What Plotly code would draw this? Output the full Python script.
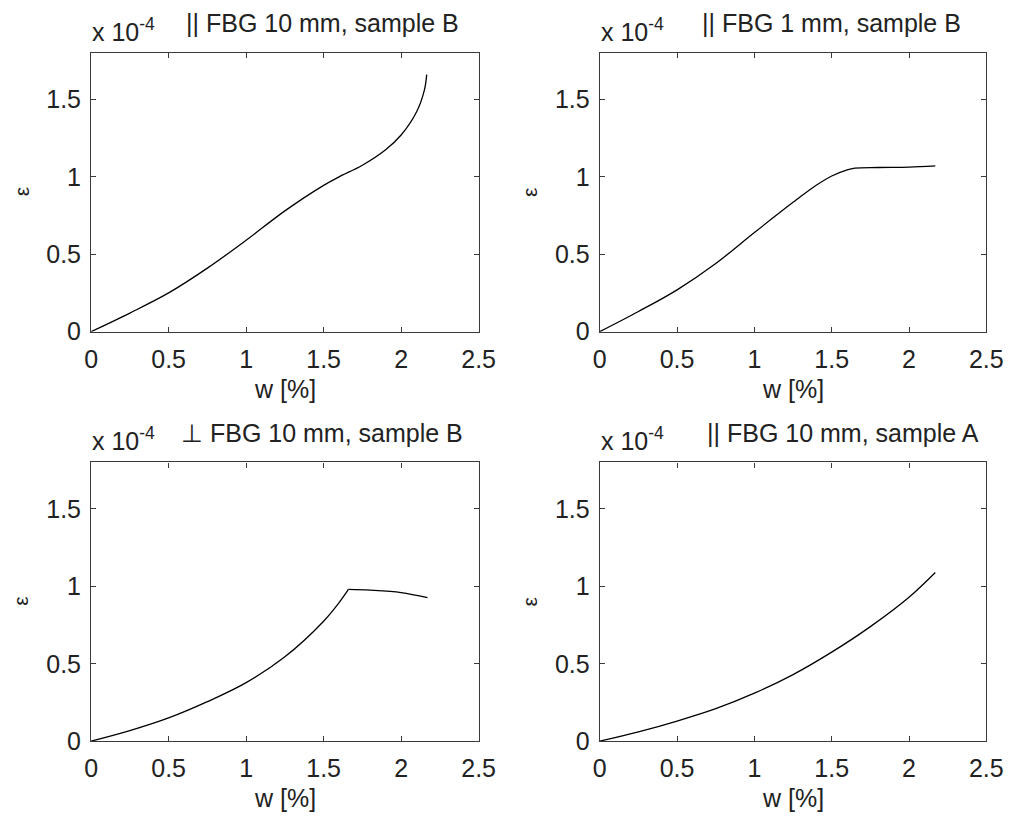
import plotly.graph_objects as go

W, H = 1013, 819

# ---- data (strain in units of 1e-4 vs w [%]) ----
w_tl = [0, 0.25, 0.5, 0.75, 1.0, 1.25, 1.5, 1.6, 1.75, 1.9, 2.0, 2.1, 2.15, 2.165]
e_tl = [0, 0.12, 0.25, 0.41, 0.59, 0.78, 0.945, 1.0, 1.075, 1.175, 1.27, 1.42, 1.56, 1.66]

w_tr = [0, 0.25, 0.5, 0.75, 1.0, 1.25, 1.4, 1.5, 1.6, 1.65, 1.8, 2.0, 2.17]
e_tr = [0, 0.13, 0.27, 0.44, 0.64, 0.835, 0.945, 1.005, 1.045, 1.056, 1.06, 1.062, 1.07]

w_bl = [0, 0.25, 0.5, 0.75, 1.0, 1.25, 1.5, 1.6, 1.66, 1.8, 2.0, 2.17]
e_bl = [0, 0.068, 0.15, 0.255, 0.378, 0.545, 0.775, 0.895, 0.98, 0.975, 0.96, 0.927]
kink_index = 8

w_br = [0, 0.25, 0.5, 0.75, 1.0, 1.25, 1.5, 1.75, 2.0, 2.17]
e_br = [0, 0.06, 0.13, 0.21, 0.31, 0.43, 0.575, 0.74, 0.93, 1.09]

titles = ["|| FBG 10 mm, sample B",
          "|| FBG 1 mm, sample B",
          "\u22a5 FBG 10 mm, sample B",
          "|| FBG 10 mm, sample A"]
x_ticks = [0, 0.5, 1, 1.5, 2, 2.5]
x_ticklabels = ["0", "0.5", "1", "1.5", "2", "2.5"]
y_ticks = [0, 0.5, 1, 1.5]
y_ticklabels = ["0", "0.5", "1", "1.5"]

FONT = "Liberation Sans, Arial, sans-serif"
TXT = "#222222"
AX = "#3a3a3a"

# target panel pixel boxes on screen: (left, right, top, bottom)
boxes = [(92, 479, 53, 332), (600, 986, 53, 332),
         (92, 479, 463, 742), (600, 986, 463, 742)]

# observed rendering transform (screen = OX + SX * layout px, screen = SY * layout px)
OX, SX = 8.0, 0.975
SY = 0.984

def px(x):
    return (x - OX) / (SX * W)

def py(y):
    return 1 - y / (SY * H)

fig = go.Figure()
line = dict(color="black", width=1.3)

series = [(w_tl, e_tl), (w_tr, e_tr), (w_bl, e_bl), (w_br, e_br)]
for i, (xs, ys) in enumerate(series):
    xa = "x" if i == 0 else f"x{i+1}"
    ya = "y" if i == 0 else f"y{i+1}"
    if i == 2:
        parts = [(xs[:kink_index + 1], ys[:kink_index + 1]), (xs[kink_index:], ys[kink_index:])]
    else:
        parts = [(xs, ys)]
    for pxs, pys in parts:
        fig.add_trace(go.Scatter(x=pxs, y=pys, mode="lines",
                                 line=dict(shape="spline", smoothing=1.0, **line),
                                 xaxis=xa, yaxis=ya, showlegend=False, hoverinfo="skip"))

layout = dict(width=W, height=H, margin=dict(l=0, r=0, t=0, b=0),
              paper_bgcolor="white", plot_bgcolor="white", showlegend=False,
              font=dict(family=FONT, color=TXT))
annotations = []
for i, (l, r, t, b) in enumerate(boxes):
    sfx = "" if i == 0 else str(i + 1)
    layout["xaxis" + sfx] = dict(
        domain=[px(l), px(r)], range=[0, 2.5], anchor="y" + sfx,
        tickvals=x_ticks, ticktext=x_ticklabels, ticks="inside", ticklen=5,
        tickcolor=AX, showline=True, linecolor=AX, linewidth=1.2, mirror="ticks",
        showgrid=False, zeroline=False, tickfont=dict(size=25, color=TXT),
        ticklabelstandoff=5, fixedrange=True)
    layout["yaxis" + sfx] = dict(
        domain=[py(b), py(t)], range=[0, 1.8], anchor="x" + sfx,
        tickvals=y_ticks, ticktext=y_ticklabels, ticks="inside", ticklen=5,
        tickcolor=AX, showline=True, linecolor=AX, linewidth=1.2, mirror="ticks",
        showgrid=False, zeroline=False, tickfont=dict(size=25, color=TXT),
        ticklabelstandoff=4, fixedrange=True)
    cx = (l + r) / 2
    cy = (t + b) / 2
    annotations.append(dict(text="w [%]", x=px(cx), y=py(b + 57), xref="paper", yref="paper",
                            xanchor="center", yanchor="middle", showarrow=False,
                            font=dict(size=25, color=TXT, family=FONT)))
    annotations.append(dict(text="\u03b5", x=px(l - 70), y=py(cy), xref="paper", yref="paper",
                            xanchor="center", yanchor="middle", showarrow=False, textangle=-90,
                            font=dict(size=21, color=TXT, family=FONT)))
    annotations.append(dict(text="x 10<sup>-4</sup>", x=px(l - 1), y=py(t - 5), xref="paper", yref="paper",
                            xanchor="left", yanchor="bottom", showarrow=False,
                            font=dict(size=25, color=TXT, family=FONT)))

title_lefts = [185, 700, 180, 705]
for i, (l, r, t, b) in enumerate(boxes):
    annotations.append(dict(text=titles[i], x=px(title_lefts[i]), y=py(t - 29.5), xref="paper", yref="paper",
                            xanchor="left", yanchor="middle", showarrow=False,
                            font=dict(size=25, color=TXT, family=FONT)))

layout["annotations"] = annotations
fig.update_layout(**layout)
fig.write_html("out.html")
